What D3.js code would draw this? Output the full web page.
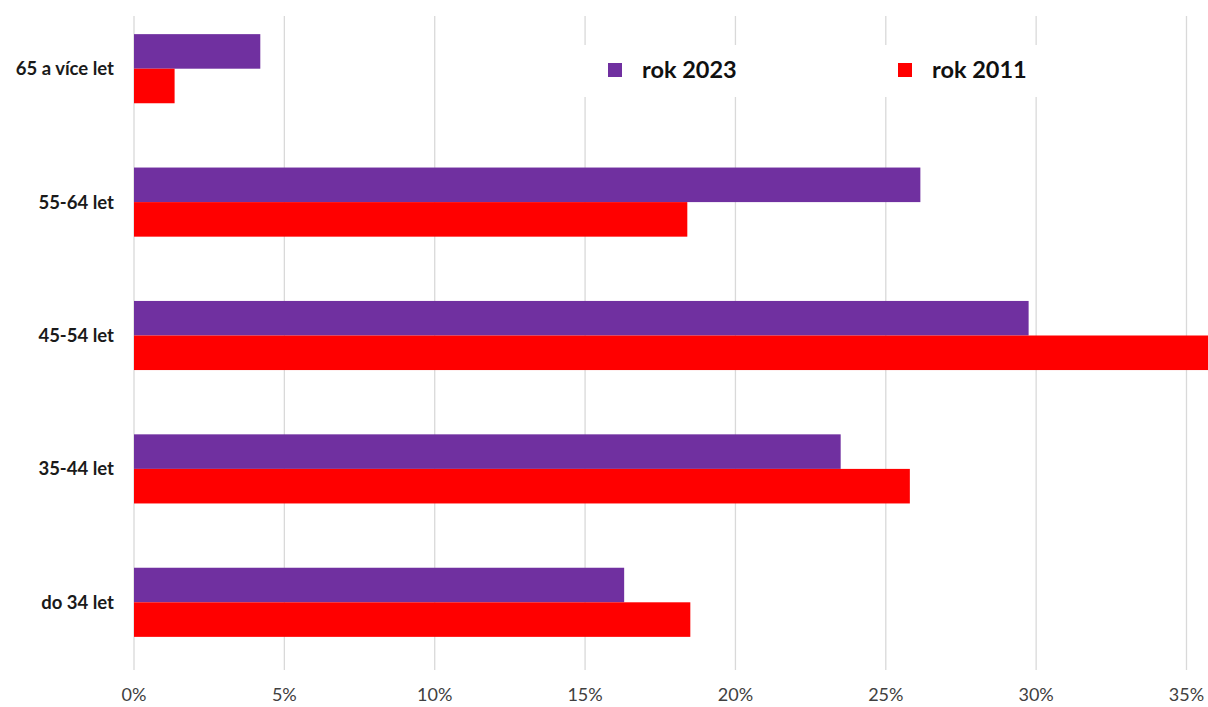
<!DOCTYPE html>
<html>
<head>
<meta charset="utf-8">
<script src="https://cdn.jsdelivr.net/npm/d3@7"></script>
<style>
  body { margin: 0; background: #fff; }
  svg { display: block; }
</style>
</head>
<body>
<svg id="chart" width="1208" height="707"></svg>
<script>
// age groups, top to bottom
const categories = ['65 a více let', '55-64 let', '45-54 let', '35-44 let', 'do 34 let'];
const seriesNames = ['rok 2023', 'rok 2011'];
const values2023 = [4.2, 26.15, 29.75, 23.5, 16.3];
const values2011 = [1.35, 18.4, 36.5, 25.8, 18.5];
const xTicks = [0, 5, 10, 15, 20, 25, 30, 35];
const colors = ['#7030A0', '#FF0000'];

const svg = d3.select('#chart');
const W = 1208, H = 707;
const plotLeft = 134, plotRight = 1186.5;
const plotTop = 2, plotBottom = 669;

var x = d3.scaleLinear().domain([0, 35]).range([plotLeft, plotRight]);
var y = d3.scaleBand().domain(categories).range([plotTop, plotBottom]);
var ySub = d3.scaleBand().domain(seriesNames)
  .range([0, y.bandwidth()])
  .paddingInner(0).paddingOuter(0.93);

// grid lines
svg.append('g').selectAll('line')
  .data(xTicks)
  .enter().append('line')
    .attr('x1', d => x(d)).attr('x2', d => x(d))
    .attr('y1', 16).attr('y2', 670)
    .attr('stroke', '#d9d9d9')
    .attr('stroke-width', 1.3);

// bars
var rows = categories.map((c, i) => ({cat: c, vals: [values2023[i], values2011[i]]}));
svg.append('clipPath').attr('id', 'plotclip')
  .append('rect').attr('x', 0).attr('y', 0).attr('width', W).attr('height', H);
var groups = svg.append('g').attr('clip-path', 'url(#plotclip)')
  .selectAll('g.row')
  .data(rows)
  .enter().append('g')
    .attr('class', 'row')
    .attr('transform', d => 'translate(0,' + y(d.cat) + ')');
groups.selectAll('rect')
  .data(d => d.vals.map((v, j) => ({name: seriesNames[j], v: v, j: j})))
  .enter().append('rect')
    .attr('x', x(0))
    .attr('y', d => ySub(d.name))
    .attr('width', d => x(d.v) - x(0))
    .attr('height', ySub.bandwidth())
    .attr('fill', d => colors[d.j]);

// category labels
svg.append('g').selectAll('text')
  .data(categories)
  .enter().append('text')
    .attr('x', 114)
    .attr('y', d => y(d) + y.bandwidth() / 2)
    .attr('dy', '0.35em')
    .attr('text-anchor', 'end')
    .attr('font-family', 'Lato, "Open Sans", sans-serif')
    .attr('font-weight', 'bold')
    .attr('font-size', 18.5)
    .attr('fill', '#1a1a1a')
    .text(d => d);

// x tick labels
svg.append('g').selectAll('text')
  .data(xTicks)
  .enter().append('text')
    .attr('x', d => x(d))
    .attr('y', 701)
    .attr('text-anchor', 'middle')
    .attr('font-family', 'Lato, "Open Sans", sans-serif')
    .attr('font-size', 18)
    .attr('fill', '#404040')
    .text(d => d + '%');

// legend (white box hides grid lines behind it)
var legend = svg.append('g');
legend.append('rect')
  .attr('x', 570).attr('y', 45).attr('width', 485).attr('height', 52)
  .attr('fill', '#fff');
var legendPos = [608, 898];
var items = legend.selectAll('g.item')
  .data(seriesNames)
  .enter().append('g')
    .attr('class', 'item')
    .attr('transform', (d, i) => 'translate(' + legendPos[i] + ',63)');
items.append('rect')
  .attr('width', 14).attr('height', 14)
  .attr('fill', (d, i) => colors[i]);
items.append('text')
  .attr('x', 34).attr('y', 7)
  .attr('dy', '0.36em')
  .attr('font-family', 'Lato, "Open Sans", sans-serif')
  .attr('font-weight', 'bold')
  .attr('font-size', 23.5)
  .attr('fill', '#111')
  .text(d => d);
</script>
</body>
</html>
